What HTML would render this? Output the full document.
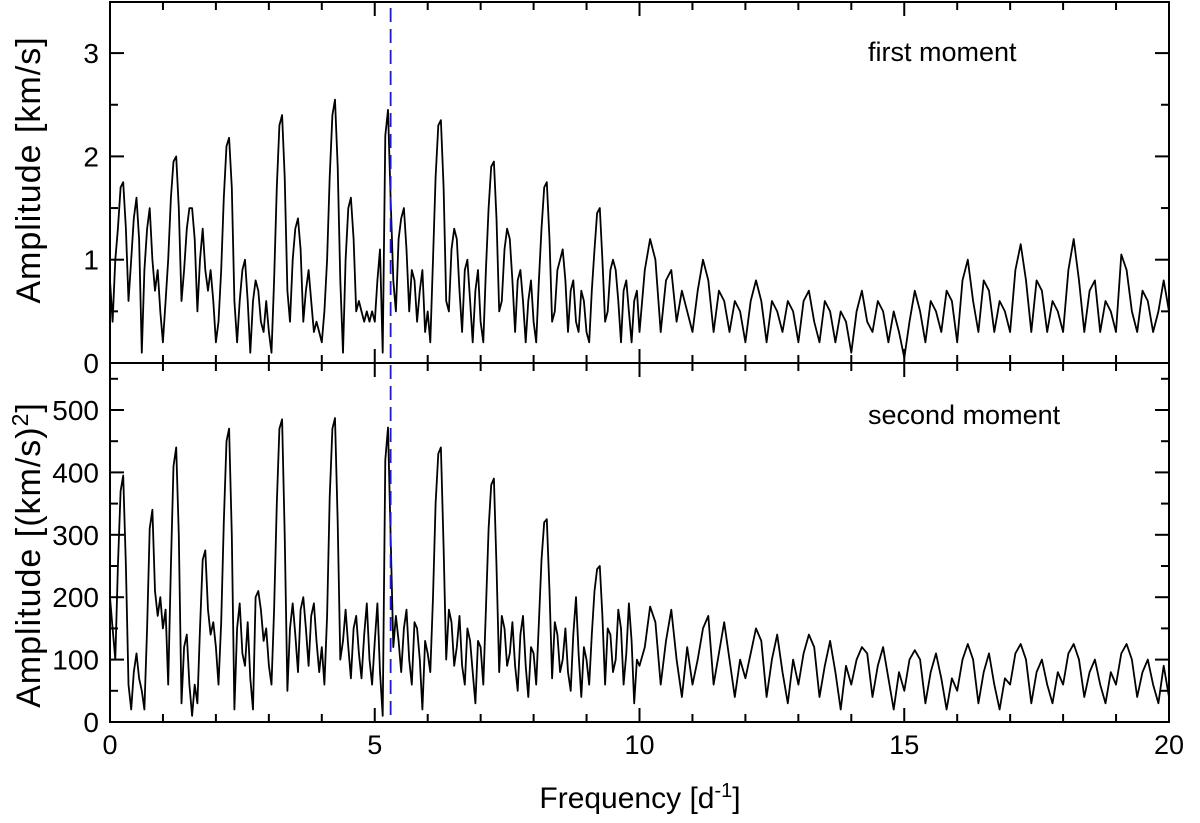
<!DOCTYPE html>
<html><head><meta charset="utf-8"><style>
html,body{margin:0;padding:0;background:#fff}
svg{display:block;font-family:"Liberation Sans",Arial,sans-serif}
</style></head><body>
<svg id="chart" width="1200" height="823" viewBox="0 0 1200 823"></svg>
<script>
const topAmpsLow=[0.8,0.4,1.0,1.3,1.7,1.75,1.3,0.6,1.0,1.4,1.6,1.2,0.1,0.9,1.3,1.5,1.0,0.7,0.9,0.5,0.2,0.6,1.0,1.6,1.95,2.0,1.5,0.6,0.9,1.3,1.5,1.5,1.2,0.5,1.0,1.3,0.9,0.7,0.9,0.6,0.2,0.4,0.9,1.6,2.1,2.18,1.7,0.6,0.2,0.6,0.9,1.0,0.6,0.1,0.6,0.8,0.7,0.4,0.3,0.6,0.3,0.1,0.8,1.7,2.3,2.4,1.8,0.7,0.4,1.0,1.3,1.4,1.1,0.4,0.7,0.9,0.6,0.3,0.4,0.3,0.2,0.5,1.0,1.8,2.4,2.55,1.9,0.8,0.1,1.0,1.5,1.6,1.2,0.5,0.6,0.5,0.4,0.5,0.4,0.5,0.4,0.8,1.1,0.1,2.2,2.45,1.6,0.8,0.5,1.2,1.4,1.5,1.1,0.5,0.9,0.8,0.4,0.7,0.9,0.3,0.5,0.2,1.0,1.8,2.3,2.35,1.7,0.6,0.5,1.1,1.3,1.2,0.7,0.3,0.9,1.0,0.6,0.2,0.7,0.9,0.4,0.2,0.9,1.5,1.9,1.95,1.4,0.5,0.6,1.1,1.3,1.2,0.8,0.3,0.8,0.9,0.6,0.2,0.6,0.8,0.4,0.2,0.8,1.3,1.7,1.75,1.2,0.4,0.5,0.9,1.0,1.1,0.8,0.3,0.7,0.8,0.4,0.3,0.7,0.6,0.3,0.2,0.7,1.1,1.45,1.5,1.0,0.4,0.5,0.9,1.0,0.9,0.6,0.2,0.7,0.8,0.5,0.2,0.6,0.7,0.3];
const topAmpsHigh=[0.9,1.2,1.0,0.3,0.8,0.9,0.4,0.7,0.5,0.3,0.7,1.0,0.8,0.3,0.7,0.6,0.3,0.6,0.5,0.2,0.6,0.8,0.6,0.2,0.6,0.5,0.3,0.6,0.5,0.2,0.6,0.7,0.4,0.2,0.6,0.5,0.2,0.5,0.4,0.1,0.5,0.7,0.4,0.3,0.6,0.5,0.2,0.5,0.3,0.05,0.4,0.7,0.5,0.2,0.6,0.5,0.3,0.7,0.6,0.2,0.8,1.0,0.6,0.3,0.8,0.7,0.3,0.6,0.5,0.3,0.9,1.15,0.8,0.3,0.8,0.7,0.3,0.6,0.5,0.3,0.9,1.2,0.8,0.3,0.7,0.8,0.3,0.6,0.5,0.3,1.05,0.9,0.5,0.3,0.7,0.6,0.3,0.5,0.8,0.5];
const botAmpsLow=[200,150,100,250,370,395,250,60,20,80,110,70,50,20,150,310,340,210,170,200,150,180,60,250,410,440,300,30,120,140,60,10,60,30,150,260,275,180,140,160,120,60,160,320,450,470,300,20,150,190,110,90,160,70,20,200,210,180,130,150,90,60,180,350,470,485,300,50,150,190,140,80,180,200,150,90,170,190,130,80,120,60,170,360,470,487,320,100,130,180,120,70,150,170,110,70,140,190,100,60,130,190,80,10,420,472,300,120,170,130,80,150,180,100,60,160,150,100,20,130,110,80,200,350,430,440,280,100,180,160,90,120,170,90,60,150,130,80,30,130,120,60,180,310,380,390,250,80,170,150,90,110,160,90,50,140,170,90,40,120,110,60,160,260,320,325,210,70,160,140,80,100,150,80,50,140,200,110,40,120,100,60,140,210,245,250,170,60,150,140,80,100,180,150,60,110,190,130,30,100,90];
const botAmpsHigh=[120,185,160,60,130,180,100,40,120,60,100,150,170,60,110,160,100,40,100,70,110,150,130,40,100,140,80,30,100,60,110,140,120,40,90,130,80,20,90,60,100,120,110,40,90,120,70,20,80,50,100,115,100,30,80,110,70,20,70,50,100,125,100,30,80,110,60,20,70,60,110,125,100,30,80,100,60,30,80,60,110,125,100,40,80,100,60,30,80,60,110,125,100,40,80,100,60,30,90,40];
const xTicks=[0,5,10,15,20];
const topYTicks=[0,1,2,3];
const botYTicks=[0,100,200,300,400,500];
const markedFreq=5.3;

const NS="http://www.w3.org/2000/svg";
const svg=document.getElementById('chart');
function mk(t,a,p){const e=document.createElementNS(NS,t);for(const k in a)e.setAttribute(k,a[k]);(p||svg).appendChild(e);return e;}
const X0=110,X1=1169;
const xs=f=>X0+(f/20)*(X1-X0);
const TOP0=2,MID=363,BOT=722;
const yTop=v=>MID-v*103.3;
const yBot=v=>BOT-v*0.624;

function series(low,high){const pts=[];low.forEach((v,i)=>pts.push([i*0.05,v]));high.forEach((v,i)=>pts.push([10+(i+1)*0.1,v]));return pts;}
const lineTop=mk('path',{d:series(topAmpsLow,topAmpsHigh).map((p,i)=>(i?'L':'M')+xs(p[0]).toFixed(1)+' '+yTop(p[1]).toFixed(1)).join(''),fill:'none',stroke:'#000','stroke-width':1.8,'stroke-linejoin':'round'});


const lineBot=mk('path',{d:series(botAmpsLow,botAmpsHigh).map((p,i)=>(i?'L':'M')+xs(p[0]).toFixed(1)+' '+yBot(p[1]).toFixed(1)).join(''),fill:'none',stroke:'#000','stroke-width':1.8,'stroke-linejoin':'round'});



const dash=mk('line',{x1:xs(markedFreq),x2:xs(markedFreq),y1:8,y2:BOT,stroke:'#1a1acc','stroke-width':1.8,'stroke-dasharray':'14,7'});



const f1=mk('rect',{x:X0,y:TOP0,width:X1-X0,height:MID-TOP0,fill:'none',stroke:'#000','stroke-width':2});


const f2=mk('rect',{x:X0,y:MID,width:X1-X0,height:BOT-MID,fill:'none',stroke:'#000','stroke-width':2});



for(let f=0;f<=20;f++){
  const len=(f%5===0)?14:8;const x=xs(f);
  [[MID,-1],[MID,1],[BOT,-1],[TOP0,1]].forEach(([y,d])=>{mk('line',{x1:x,x2:x,y1:y,y2:y+d*len,stroke:'#000','stroke-width':2});});
}
xTicks.forEach(t=>{const e=mk('text',{x:xs(t),y:754,'font-size':27,'text-anchor':'middle'});e.textContent=t;

});

for(let v=0;v<=3.5;v+=0.5){const y=yTop(v);if(y<TOP0+1)continue;const len=(v%1===0)?14:8;
  mk('line',{x1:X0,x2:X0+len,y1:y,y2:y,stroke:'#000','stroke-width':2});mk('line',{x1:X1,x2:X1-len,y1:y,y2:y,stroke:'#000','stroke-width':2});}
topYTicks.forEach(t=>{const e=mk('text',{x:99,y:yTop(t)+10,'font-size':28,'text-anchor':'end'});e.textContent=t;

});
for(let v=0;v<=550;v+=50){const y=yBot(v);const len=(v%100===0)?14:8;
  mk('line',{x1:X0,x2:X0+len,y1:y,y2:y,stroke:'#000','stroke-width':2});mk('line',{x1:X1,x2:X1-len,y1:y,y2:y,stroke:'#000','stroke-width':2});}
botYTicks.forEach(t=>{const e=mk('text',{x:99,y:yBot(t)+10,'font-size':28,'text-anchor':'end'});e.textContent=t;

});
</script>
<svg style="position:absolute;left:0;top:0" width="1200" height="823">
<text x="868" y="61" font-size="27" font-family="Liberation Sans, sans-serif">first moment</text>
<text x="868" y="424" font-size="27" font-family="Liberation Sans, sans-serif">second moment</text>
<text transform="translate(40,170) rotate(-90)" text-anchor="middle" font-size="34" letter-spacing="1" font-family="Liberation Sans, sans-serif">Amplitude [km/s]</text>
<text transform="translate(40,555) rotate(-90)" text-anchor="middle" font-size="34" letter-spacing="1" font-family="Liberation Sans, sans-serif">Amplitude [(km/s)<tspan dy="-12" font-size="23">2</tspan><tspan dy="12">]</tspan></text>
<text x="640" y="808" text-anchor="middle" font-size="30" font-family="Liberation Sans, sans-serif">Frequency [d<tspan dy="-11" font-size="20">-1</tspan><tspan dy="11">]</tspan></text>
</svg>
</body></html>
